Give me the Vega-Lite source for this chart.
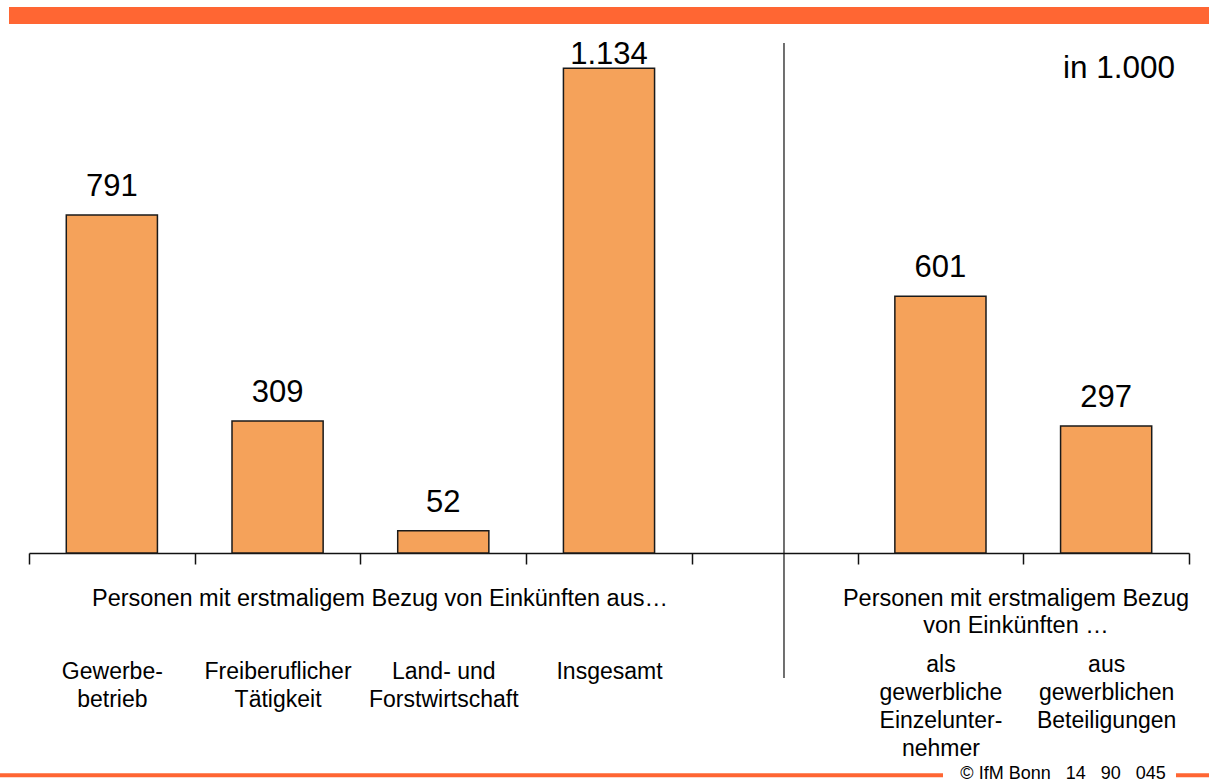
{
  "$schema": "https://vega.github.io/schema/vega-lite/v6.json",
  "width": 1160,
  "height": 510,
  "autosize": {"type": "none"},
  "padding": {"left": 29, "top": 43, "right": 20, "bottom": 231},
  "background": "white",
  "config": {
    "view": {"stroke": null},
    "font": "Liberation Sans",
    "locale": {"number": {"decimal": ",", "thousands": ".", "grouping": [3], "currency": ["", " €"]}}
  },
  "datasets": {
    "bars": [
      {"kategorie": "Gewerbe-|betrieb", "wert": 791},
      {"kategorie": "Freiberuflicher|Tätigkeit", "wert": 309},
      {"kategorie": "Land- und|Forstwirtschaft", "wert": 52},
      {"kategorie": "Insgesamt", "wert": 1134},
      {"kategorie": "als|gewerbliche|Einzelunter-|nehmer", "wert": 601},
      {"kategorie": "aus|gewerblichen|Beteiligungen", "wert": 297}
    ]
  },
  "encoding": {
    "y": {"type": "quantitative", "scale": {"domain": [0, 1193.3], "nice": false, "zero": false}, "axis": null}
  },
  "layer": [
    {
      "data": {"name": "bars"},
      "mark": {"type": "bar", "fill": "#F5A25A", "stroke": "#1a1a1a", "strokeWidth": 1.5, "width": {"band": 0.55}},
      "encoding": {
        "x": {
          "field": "kategorie",
          "type": "nominal",
          "sort": null,
          "scale": {
            "domain": ["Gewerbe-|betrieb", "Freiberuflicher|Tätigkeit", "Land- und|Forstwirtschaft", "Insgesamt", "leer", "als|gewerbliche|Einzelunter-|nehmer", "aus|gewerblichen|Beteiligungen"],
            "paddingInner": 0,
            "paddingOuter": 0
          },
          "axis": {
            "title": null,
            "tickBand": "extent",
            "tickSize": 11,
            "tickColor": "#111111",
            "tickWidth": 1.5,
            "domainColor": "#111111",
            "domainWidth": 1.5,
            "labelAngle": 0,
            "labelFont": "Liberation Sans",
            "labelFontSize": 23,
            "labelColor": "#000000",
            "labelLineHeight": 28,
            "labelBaseline": "top",
            "labelLimit": 0,
            "labelOverlap": false,
            "labelPadding": {"condition": {"test": "isString(datum.value) && (indexof(datum.value, 'als|') == 0 || indexof(datum.value, 'aus|') == 0)", "value": 89}, "value": 96},
            "labelExpr": "(!isString(datum.value) || datum.value == 'leer') ? '' : split(datum.value, '|')"
          }
        },
        "y": {"field": "wert"}
      }
    },
    {
      "data": {"name": "bars"},
      "mark": {"type": "text", "fontSize": 31, "align": "center", "baseline": "alphabetic", "color": "#000000", "dy": 21},
      "encoding": {
        "x": {"field": "kategorie", "type": "nominal", "sort": null},
        "y": {"field": "wert", "type": "quantitative", "scale": {"domain": [-93.6, 1099.7], "clamp": true, "nice": false, "zero": false}, "axis": null},
        "text": {"field": "wert", "type": "quantitative", "format": ",d"}
      }
    },
    {
      "data": {"values": [{}]},
      "mark": {"type": "rule", "stroke": "#111111", "strokeWidth": 1.2},
      "encoding": {
        "x": {"datum": "leer", "bandPosition": 0.556},
        "y": {"datum": 1193.3},
        "y2": {"datum": -292.5}
      }
    },
    {
      "data": {"values": [{}]},
      "mark": {"type": "text", "fontSize": 23.5, "align": "center", "baseline": "alphabetic", "color": "#000000"},
      "encoding": {
        "x": {"datum": "Land- und|Forstwirtschaft", "bandPosition": 0.118},
        "y": {"datum": -124},
        "text": {"value": "Personen mit erstmaligem Bezug von Einkünften aus…"}
      }
    },
    {
      "data": {"values": [{}]},
      "mark": {"type": "text", "fontSize": 23.5, "align": "center", "baseline": "alphabetic", "lineBreak": "|", "lineHeight": 27, "color": "#000000"},
      "encoding": {
        "x": {"datum": "als|gewerbliche|Einzelunter-|nehmer", "bandPosition": 0.956},
        "y": {"datum": -124},
        "text": {"value": "Personen mit erstmaligem Bezug|von Einkünften …"}
      }
    },
    {
      "data": {"values": [{}]},
      "mark": {"type": "text", "fontSize": 31.5, "align": "right", "baseline": "alphabetic", "color": "#000000"},
      "encoding": {
        "x": {"datum": "aus|gewerblichen|Beteiligungen", "bandPosition": 0.9155},
        "y": {"datum": 1111},
        "text": {"value": "in 1.000"}
      }
    },
    {
      "data": {"values": [{}]},
      "mark": {"type": "rect", "fill": "#FF6633"},
      "encoding": {
        "x": {"value": -20},
        "x2": {"value": 1180},
        "y": {"datum": 1277.5},
        "y2": {"datum": 1237.8}
      }
    },
    {
      "data": {"values": [{}]},
      "mark": {"type": "rule", "stroke": "#FF6633", "strokeWidth": 4},
      "encoding": {
        "x": {"value": -29},
        "x2": {"value": 914},
        "y": {"datum": -520.1}
      }
    },
    {
      "data": {"values": [{}]},
      "mark": {"type": "rule", "stroke": "#FF6633", "strokeWidth": 4},
      "encoding": {
        "x": {"value": 1147},
        "x2": {"value": 1180},
        "y": {"datum": -520.1}
      }
    },
    {
      "data": {"values": [{}]},
      "mark": {"type": "text", "fontSize": 18, "align": "center", "baseline": "alphabetic", "color": "#000000"},
      "encoding": {
        "x": {"datum": "aus|gewerblichen|Beteiligungen", "bandPosition": 0.24},
        "y": {"datum": -528.8},
        "text": {"value": "© IfM Bonn\u00a0\u00a0\u00a014\u00a0\u00a0\u00a090\u00a0\u00a0\u00a0045"}
      }
    }
  ],
  "resolve": {"scale": {"y": "independent"}}
}
